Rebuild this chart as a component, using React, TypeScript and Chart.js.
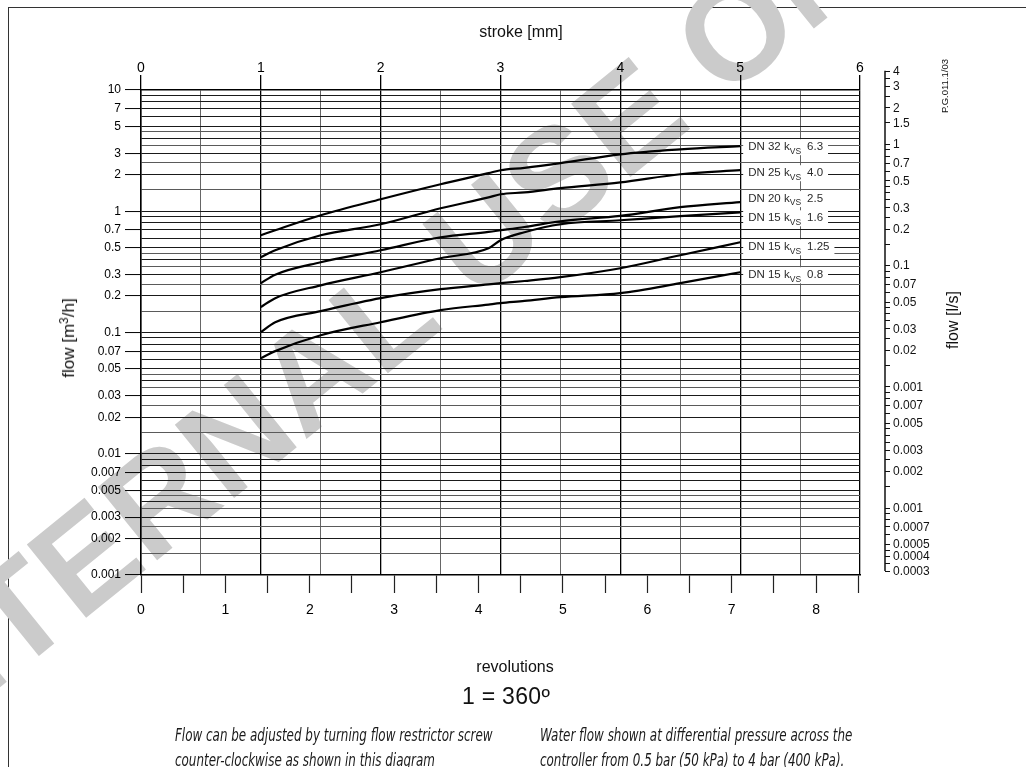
import React, { useEffect, useRef } from 'react';
import { Chart, registerables } from 'chart.js';

Chart.register(...registerables);

// ---------- data ----------
const STROKE_MM = [1, 1.12, 1.5, 2, 2.5, 2.9, 3, 3.2, 3.5, 4, 4.5, 5];
const FLOW_DN32_KVS63 = [0.634, 0.697, 0.927, 1.256, 1.67, 2.06, 2.18, 2.28, 2.49, 2.95, 3.24, 3.44];
const FLOW_DN25_KVS40 = [0.418, 0.477, 0.634, 0.781, 1.059, 1.3, 1.38, 1.43, 1.55, 1.73, 2.02, 2.18];
const FLOW_DN20_KVS25 = [0.255, 0.3, 0.38, 0.477, 0.61, 0.676, 0.697, 0.742, 0.827, 0.915, 1.08, 1.19];
const FLOW_DN15_KVS16 = [0.162, 0.192, 0.245, 0.314, 0.41, 0.495, 0.577, 0.671, 0.781, 0.843, 0.91, 0.98];
const FLOW_DN15_KVS125 = [0.1006, 0.1216, 0.15, 0.192, 0.2275, 0.249, 0.255, 0.266, 0.286, 0.339, 0.434, 0.555];
const FLOW_DN15_KVS08 = [0.0614, 0.0702, 0.095, 0.1216, 0.153, 0.17, 0.1745, 0.182, 0.1955, 0.211, 0.255, 0.314];

const SERIES_FLOW = [FLOW_DN32_KVS63, FLOW_DN25_KVS40, FLOW_DN20_KVS25, FLOW_DN15_KVS16, FLOW_DN15_KVS125, FLOW_DN15_KVS08];
const SERIES_DN = ['DN 32', 'DN 25', 'DN 20', 'DN 15', 'DN 15', 'DN 15'];
const SERIES_KVS = ['6.3', '4.0', '2.5', '1.6', '1.25', '0.8'];

// axes
const STROKE_MIN = 0;
const STROKE_MAX = 6;
const REVOLUTIONS_PER_MM = 1.42;
const FLOW_MIN = 0.001;
const FLOW_MAX = 10;
const FLOW_M3H_LABELS = [10, 7, 5, 3, 2, 1, 0.7, 0.5, 0.3, 0.2, 0.1, 0.07, 0.05, 0.03, 0.02, 0.01, 0.007, 0.005, 0.003, 0.002, 0.001];
const GRID_MANTISSA = [1, 1.5, 2, 2.5, 3, 3.5, 4, 4.5, 5, 6, 7, 8, 9];
const M3H_PER_LS = 3.6;
const FLOW_LS_MIN = 0.0003;
const FLOW_LS_MAX = 4;
const FLOW_LS_LABEL_VALUES = [4, 3, 2, 1.5, 1, 0.7, 0.5, 0.3, 0.2, 0.1, 0.07, 0.05, 0.03, 0.02, 0.01, 0.007, 0.005, 0.003, 0.002, 0.001, 0.0007, 0.0005, 0.0004, 0.0003];
const FLOW_LS_LABEL_TEXT = ['4', '3', '2', '1.5', '1', '0.7', '0.5', '0.3', '0.2', '0.1', '0.07', '0.05', '0.03', '0.02', '0.001', '0.007', '0.005', '0.003', '0.002', '0.001', '0.0007', '0.0005', '0.0004', '0.0003'];

// label offsets (px) of the kvs labels from the curve ends
const LABEL_DY = [1, 3, -3, 6, 5, 3];

const FONT = '"Liberation Sans", Arial, Helvetica, sans-serif';

const near = (a: number, b: number) => Math.abs(a / b - 1) < 1e-6;
const gridValues = (lo: number, hi: number) => {
  const out: number[] = [];
  for (let e = -5; e <= 2; e++) {
    for (const m of GRID_MANTISSA) {
      const v = Number((m * Math.pow(10, e)).toPrecision(6));
      if (v >= lo * 0.999999 && v <= hi * 1.000001) out.push(v);
    }
  }
  return out;
};
const LEFT_GRID = gridValues(FLOW_MIN, FLOW_MAX);
const RIGHT_GRID = gridValues(FLOW_LS_MIN, FLOW_LS_MAX);
const isLeftLabel = (v: number) => v !== undefined && FLOW_M3H_LABELS.some((l) => near(v, l));

const watermarkPlugin = {
  id: 'watermark',
  beforeDraw(chart: any) {
    const ctx = chart.ctx;
    ctx.save();
    ctx.font = `bold 137px ${FONT}`;
    ctx.fillStyle = '#cbcbcb';
    ctx.textBaseline = 'middle';
    ctx.translate(490, 242);
    ctx.rotate((-39 * Math.PI) / 180);
    const pre = ctx.measureText('INTERNAL ').width + ctx.measureText('U').width / 2;
    ctx.fillText('INTERNAL USE ONLY', -pre, 0);
    ctx.restore();
  },
};

const kvsLabelPlugin = {
  id: 'kvsLabels',
  afterDatasetsDraw(chart: any) {
    const ctx = chart.ctx;
    const mainFont = `11.5px ${FONT}`;
    const subFont = `8.5px ${FONT}`;
    chart.data.datasets.forEach((_ds: any, i: number) => {
      const meta = chart.getDatasetMeta(i);
      const pt = meta.data[meta.data.length - 1];
      const x0 = pt.x + 8;
      const y0 = pt.y + LABEL_DY[i];
      ctx.save();
      ctx.font = mainFont;
      const w1 = ctx.measureText(SERIES_DN[i] + ' k').width;
      ctx.font = subFont;
      const w2 = ctx.measureText('VS').width;
      ctx.font = mainFont;
      const w3 = ctx.measureText(SERIES_KVS[i]).width;
      const gap = 6;
      const total = w1 + w2 + gap + w3;
      ctx.fillStyle = '#fff';
      ctx.fillRect(x0 - 5, y0 - 8, total + 10, 16);
      ctx.fillStyle = '#2a2a2a';
      ctx.textBaseline = 'middle';
      ctx.font = mainFont;
      ctx.fillText(SERIES_DN[i] + ' k', x0, y0);
      ctx.font = subFont;
      ctx.fillText('VS', x0 + w1, y0 + 4);
      ctx.font = mainFont;
      ctx.fillText(SERIES_KVS[i], x0 + w1 + w2 + gap, y0);
      ctx.restore();
    });
  },
};

const rightAxisPlugin = {
  id: 'rightAxis',
  afterDraw(chart: any) {
    const ctx = chart.ctx;
    const ys = chart.scales.y;
    const px = chart.chartArea.right + 25;
    const top = ys.getPixelForValue(FLOW_LS_MAX * M3H_PER_LS);
    const bottom = ys.getPixelForValue(FLOW_LS_MIN * M3H_PER_LS);
    ctx.save();
    ctx.strokeStyle = '#111';
    ctx.lineWidth = 1.5;
    ctx.beginPath();
    ctx.moveTo(px, top);
    ctx.lineTo(px, bottom);
    ctx.stroke();
    ctx.lineWidth = 1;
    RIGHT_GRID.forEach((v) => {
      const y = Math.round(ys.getPixelForValue(v * M3H_PER_LS)) + 0.5;
      ctx.beginPath();
      ctx.moveTo(px, y);
      ctx.lineTo(px + 5, y);
      ctx.stroke();
    });
    ctx.fillStyle = '#111';
    ctx.font = `12px ${FONT}`;
    ctx.textBaseline = 'middle';
    ctx.textAlign = 'left';
    FLOW_LS_LABEL_VALUES.forEach((v, i) => {
      const y = ys.getPixelForValue(v * M3H_PER_LS);
      ctx.fillText(FLOW_LS_LABEL_TEXT[i], px + 8, y + 1);
    });
    ctx.restore();
  },
};

export default function App() {
  const ref = useRef<HTMLCanvasElement>(null);

  useEffect(() => {
    if (!ref.current) return;
    Chart.defaults.font.family = FONT;
    const chart = new Chart(ref.current, {
      type: 'line',
      data: {
        datasets: SERIES_FLOW.map((flow, i) => ({
          label: `${SERIES_DN[i]} kvs ${SERIES_KVS[i]}`,
          data: STROKE_MM.map((x, j) => ({ x, y: flow[j] })),
          borderColor: '#000',
          borderWidth: 2.2,
          pointRadius: 0,
          fill: false,
          cubicInterpolationMode: 'monotone' as const,
          xAxisID: 'x',
          yAxisID: 'y',
        })),
      },
      options: {
        animation: false,
        responsive: false,
        events: [],
        layout: { padding: { left: 0, top: 0, right: 166, bottom: 0 } },
        plugins: { legend: { display: false }, tooltip: { enabled: false } },
        scales: {
          x: {
            type: 'linear',
            position: 'top',
            min: STROKE_MIN,
            max: STROKE_MAX,
            afterFit: (s: any) => { s.height = 90; },
            ticks: {
              stepSize: 0.5,
              autoSkip: false,
              maxRotation: 0,
              includeBounds: false,
              padding: 0,
              color: '#000',
              font: { size: 14, lineHeight: 1 },
              callback: (v: any) => (Number.isInteger(v) ? String(v) : ''),
            },
            grid: {
              color: (c: any) => (Number.isInteger(c.tick?.value) ? '#000' : '#666'),
              lineWidth: (c: any) => (Number.isInteger(c.tick?.value) ? 1.3 : 1),
              tickLength: 15,
              tickColor: (c: any) => (Number.isInteger(c.tick?.value) ? '#000' : 'rgba(0,0,0,0)'),
              tickWidth: 1.3,
            },
            border: { display: true, color: '#000', width: 1.5 },
          },
          x2: {
            type: 'linear',
            position: 'bottom',
            min: STROKE_MIN * REVOLUTIONS_PER_MM,
            max: STROKE_MAX * REVOLUTIONS_PER_MM,
            afterFit: (s: any) => { s.height = 767 - 575; },
            ticks: {
              stepSize: 0.5,
              autoSkip: false,
              maxRotation: 0,
              includeBounds: false,
              padding: 10,
              color: '#000',
              font: { size: 14, lineHeight: 1 },
              callback: (v: any) => (Number.isInteger(v) ? String(v) : ''),
            },
            grid: { drawOnChartArea: false, tickLength: 18, tickColor: '#222', tickWidth: 1.2 },
            border: { display: true, color: '#000', width: 1.5 },
          },
          y: {
            type: 'logarithmic',
            position: 'left',
            min: FLOW_MIN,
            max: FLOW_MAX,
            afterFit: (s: any) => { s.width = 141; },
            afterBuildTicks: (s: any) => { s.ticks = LEFT_GRID.map((v) => ({ value: v })); },
            ticks: {
              autoSkip: false,
              padding: 4,
              color: '#000',
              font: { size: 12 },
              callback: (v: any) => {
                const i = FLOW_M3H_LABELS.findIndex((l) => near(v, l));
                return i >= 0 ? String(FLOW_M3H_LABELS[i]) : '';
              },
            },
            grid: {
              color: (c: any) => {
                const v = c.tick?.value;
                if (v === undefined) return '#222';
                const m = Number((v / Math.pow(10, Math.floor(Math.log10(v) + 1e-9))).toPrecision(4));
                return Number.isInteger(m) ? '#1a1a1a' : '#5a5a5a';
              },
              lineWidth: 1.1,
              tickLength: 16,
              tickColor: (c: any) => (isLeftLabel(c.tick?.value) ? '#000' : 'rgba(0,0,0,0)'),
              tickWidth: 1,
            },
            border: { display: true, color: '#000', width: 1.5 },
          },
        },
      } as any,
      plugins: [watermarkPlugin, kvsLabelPlugin, rightAxisPlugin],
    });
    return () => chart.destroy();
  }, []);

  const base: React.CSSProperties = {
    position: 'absolute',
    fontFamily: FONT,
    color: '#111',
    whiteSpace: 'nowrap',
    lineHeight: 1,
  };
  const foot: React.CSSProperties = {
    ...base,
    fontFamily: '"Liberation Sans Narrow", "DejaVu Sans Condensed", "Liberation Sans", sans-serif',
    fontStyle: 'italic',
    fontSize: 17,
    color: '#1a1a1a',
    transform: 'translateY(-50%) scaleX(0.78)',
    transformOrigin: '0 50%',
  };

  return (
    <div style={{ position: 'fixed', left: 0, top: 0, width: 1026, height: 767, background: '#fff', overflow: 'hidden' }}>
      <div style={{ position: 'absolute', left: 8, top: 7, width: 1018, height: 0, borderTop: '1.5px solid #333' }} />
      <div style={{ position: 'absolute', left: 8, top: 7, width: 0, height: 760, borderLeft: '1.5px solid #333' }} />
      <canvas ref={ref} width={1026} height={767} style={{ position: 'absolute', left: 0, top: 0 }} />
      <div style={{ ...base, left: 521, top: 32, transform: 'translate(-50%,-50%)', fontSize: 16 }}>stroke [mm]</div>
      <div style={{ ...base, left: 68, top: 338, transform: 'translate(-50%,-50%) rotate(-90deg)', fontSize: 17 }}>
        flow [m<sup style={{ fontSize: '0.7em', verticalAlign: '0.5em' }}>3</sup>/h]
      </div>
      <div style={{ ...base, left: 953, top: 320, transform: 'translate(-50%,-50%) rotate(-90deg)', fontSize: 16 }}>flow [l/s]</div>
      <div style={{ ...base, left: 945, top: 86, transform: 'translate(-50%,-50%) rotate(-90deg)', fontSize: 9.5 }}>P.G.011.1/03</div>
      <div style={{ ...base, left: 515, top: 667, transform: 'translate(-50%,-50%)', fontSize: 16 }}>revolutions</div>
      <div style={{ ...base, left: 506, top: 696, transform: 'translate(-50%,-50%)', fontSize: 23, letterSpacing: 0.3 }}>1 = 360º</div>
      <div style={{ ...foot, left: 175, top: 735 }}>Flow can be adjusted by turning flow restrictor screw</div>
      <div style={{ ...foot, left: 175, top: 760 }}>counter-clockwise as shown in this diagram</div>
      <div style={{ ...foot, left: 540, top: 735 }}>Water flow shown at differential pressure across the</div>
      <div style={{ ...foot, left: 540, top: 760 }}>controller from 0.5 bar (50 kPa) to 4 bar (400 kPa).</div>
    </div>
  );
}
